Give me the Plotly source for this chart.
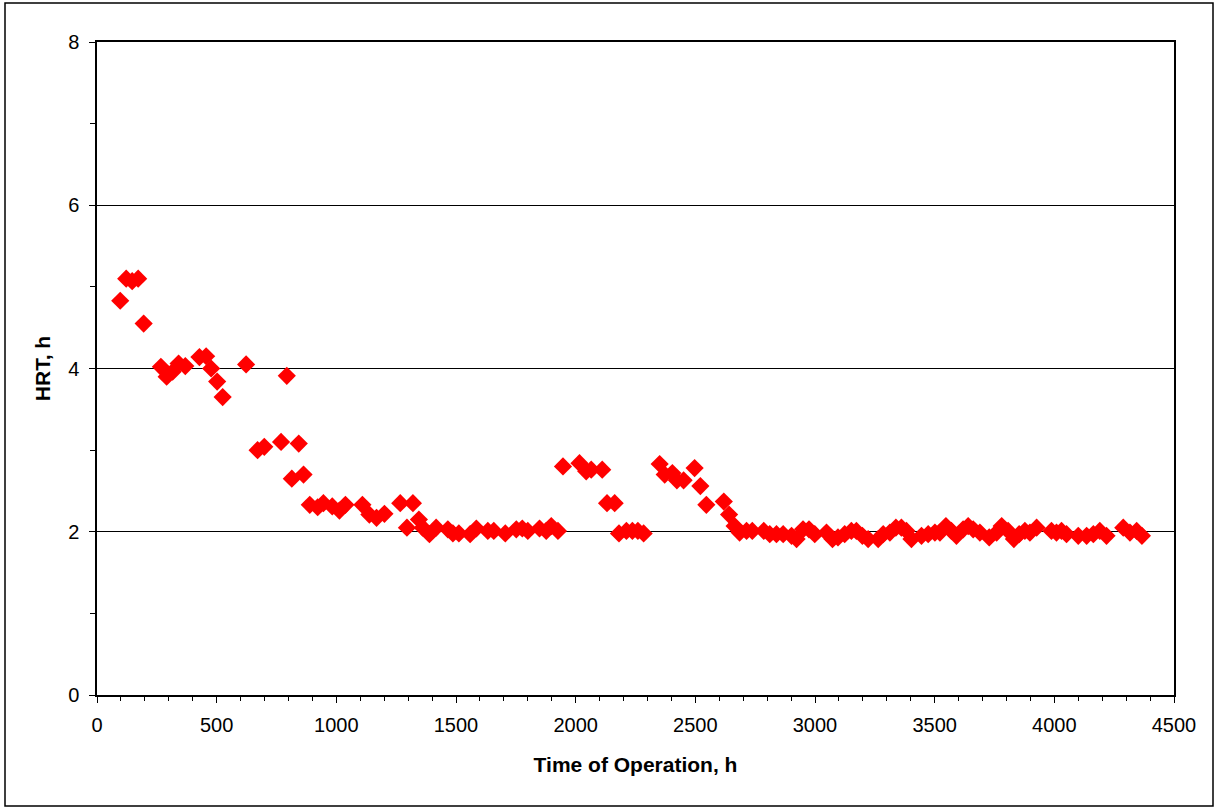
import plotly.graph_objects as go

# --- Data ---
hours = [97, 122, 147, 172, 195, 267, 291, 316, 341, 369, 428, 456, 477, 502, 525,
         623, 671, 699, 769, 793, 814, 843, 863, 889, 922, 946, 983, 1013, 1038,
         1109, 1138, 1168, 1201, 1267, 1295, 1320, 1345, 1361, 1389, 1417, 1466,
         1487, 1512, 1559, 1585, 1633, 1658, 1706, 1752, 1777, 1800, 1849, 1877,
         1898, 1926, 1947, 2016, 2044, 2065, 2111, 2131, 2163, 2181, 2212, 2237,
         2260, 2284, 2351, 2372, 2404, 2423, 2451, 2497, 2521, 2546, 2619, 2641,
         2664, 2685, 2714, 2738, 2786, 2811, 2839, 2867, 2902, 2923, 2950, 2975,
         2999, 3048, 3073, 3096, 3124, 3152, 3173, 3198, 3222, 3264, 3285, 3313,
         3338, 3361, 3382, 3403, 3445, 3473, 3501, 3522, 3547, 3570, 3591, 3619,
         3640, 3661, 3689, 3728, 3759, 3780, 3807, 3831, 3853, 3877, 3898, 3926,
         3988, 4009, 4030, 4051, 4100, 4135, 4163, 4190, 4218, 4288, 4316, 4344,
         4366]
hrt = [4.83, 5.10, 5.07, 5.10, 4.55, 4.02, 3.90, 3.96, 4.06, 4.03, 4.14, 4.15, 4.00,
       3.84, 3.65, 4.05, 3.00, 3.04, 3.10, 3.91, 2.65, 3.08, 2.70, 2.33, 2.30, 2.35,
       2.31, 2.26, 2.33, 2.33, 2.21, 2.17, 2.22, 2.35, 2.05, 2.35, 2.15, 2.05, 1.97,
       2.05, 2.03, 1.98, 1.98, 1.97, 2.04, 2.01, 2.01, 1.98, 2.03, 2.04, 2.01, 2.04,
       2.01, 2.07, 2.01, 2.80, 2.84, 2.74, 2.76, 2.76, 2.35, 2.35, 1.98, 2.01, 2.01,
       2.01, 1.98, 2.83, 2.70, 2.72, 2.63, 2.63, 2.78, 2.56, 2.33, 2.37, 2.21, 2.07,
       1.99, 2.01, 2.01, 2.01, 1.97, 1.97, 1.97, 1.95, 1.91, 2.03, 2.03, 1.97, 1.99,
       1.91, 1.93, 1.97, 2.01, 2.01, 1.95, 1.91, 1.91, 1.97, 1.99, 2.05, 2.05, 2.01,
       1.91, 1.95, 1.97, 1.99, 1.99, 2.07, 2.01, 1.95, 2.03, 2.07, 2.03, 1.99, 1.93,
       1.99, 2.07, 2.01, 1.91, 1.97, 2.01, 1.99, 2.05, 2.01, 1.99, 2.01, 1.97, 1.95,
       1.95, 1.97, 2.01, 1.95, 2.05, 1.99, 2.01, 1.95]

W, H = 1217, 809
ml, mr, mt, mb = 97, 43, 42, 114
pw, ph = W - ml - mr, H - mt - mb

fig = go.Figure()

fig.add_trace(go.Scatter(
    x=hours, y=hrt,
    mode='markers',
    marker=dict(symbol='diamond', color='#FF0000', size=14, line=dict(width=0)),
    showlegend=False
))

# outer chart border
fig.add_shape(type='rect', xref='paper', yref='paper',
              x0=(5 - ml) / pw, x1=(1213 - ml) / pw,
              y0=(H - mb - 806) / ph, y1=(H - mb - 3) / ph,
              line=dict(color='black', width=1.5), layer='below')

axis_font = dict(family='Liberation Sans, Arial, sans-serif', size=20, color='black')
title_font = dict(family='Liberation Sans, Arial, sans-serif', size=21, color='black')

fig.update_layout(
    width=W, height=H,
    margin=dict(l=ml, r=mr, t=mt, b=mb),
    paper_bgcolor='white',
    plot_bgcolor='white',
    xaxis=dict(
        range=[0, 4500], tickvals=[0, 500, 1000, 1500, 2000, 2500, 3000, 3500, 4000, 4500],
        ticks='outside', ticklen=6, tickcolor='black', tickwidth=1,
        minor=dict(dtick=100, ticks='outside', ticklen=4, tickcolor='black'),
        showgrid=False, zeroline=False,
        showline=True, linecolor='black', linewidth=1.5, mirror=True,
        tickfont=axis_font, ticklabelstandoff=5,
        title=dict(text='<b>Time of Operation, h</b>', font=title_font, standoff=23),
    ),
    yaxis=dict(
        range=[0, 8], tickvals=[0, 2, 4, 6, 8],
        ticks='outside', ticklen=6, tickcolor='black', tickwidth=1,
        minor=dict(dtick=1, ticks='outside', ticklen=5, tickcolor='black'),
        showgrid=True, gridcolor='black', gridwidth=1, zeroline=False,
        showline=True, linecolor='black', linewidth=1.5, mirror=True,
        tickfont=axis_font, ticklabelstandoff=6,
        title=dict(text='<b>HRT, h</b>', font=title_font, standoff=12),
    ),
)

fig.write_html("out.html", config={'displayModeBar': False},
               post_script="document.body.style.margin='0';")
